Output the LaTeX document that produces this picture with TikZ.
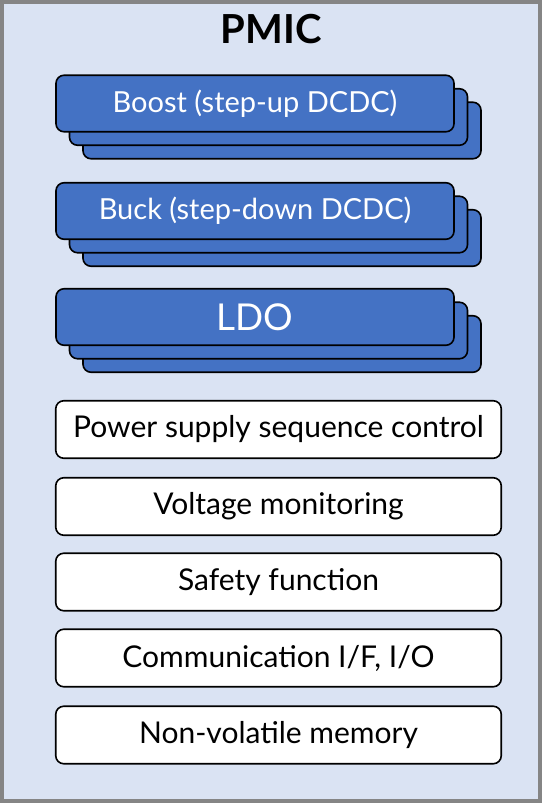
\documentclass[tikz,border=0pt]{standalone}
\usepackage{fontspec}
\setmainfont{Lato}
\usetikzlibrary{positioning}
\definecolor{pmicbg}{HTML}{DAE3F3}
\definecolor{pmicblue}{HTML}{4472C4}
\definecolor{pmicgray}{HTML}{858585}
\tikzset{
  blayer/.style={draw=black, line width=1.6pt, fill=pmicblue, rounded corners=8pt,
    minimum width=398pt, minimum height=56.5pt, inner sep=0pt},
  wbox/.style={draw=black, line width=1.6pt, fill=white, rounded corners=8pt,
    minimum width=445.5pt, minimum height=57.5pt, inner sep=0pt,
    font=\fontsize{30}{32}\selectfont},
  btext/.style={text=white, font=\fontsize{29}{31}\selectfont}
}
\begin{document}
\begin{tikzpicture}[x=1pt,y=-1pt]
\useasboundingbox (0,0) rectangle (542,803);
% outer frame
\draw[pmicgray, line width=4pt, fill=pmicbg] (2,2) rectangle (540,801);
\node[font=\fontsize{40}{42}\bfseries\selectfont] (title) at (271,29) {PMIC};
% stacked converter blocks
\foreach \y/\name in {103.5/boost, 211/buck, 317/ldo} {
  \node[blayer] (\name3) at (282,\y+27) {};
  \node[blayer] (\name2) at (268.5,\y+13.5) {};
  \node[blayer] (\name) at (255,\y) {};
}
\node[btext] at (boost) {Boost (step-up DCDC)};
\node[btext] at (buck) {Buck (step-down DCDC)};
\node[btext, font=\fontsize{37}{40}\selectfont] at (ldo) {LDO};
% function blocks
\node[wbox] (seq) at (278.5,429.5) {Power supply sequence control};
\node[wbox] (mon) at (278.5,506.5) {Voltage monitoring};
\node[wbox] (safe) at (278.5,582) {Safety function};
\node[wbox] (comm) at (278.5,658) {Communication I/F, I/O};
\node[wbox] (nvm) at (278.5,735) {Non-volatile memory};
\end{tikzpicture}
\end{document}
